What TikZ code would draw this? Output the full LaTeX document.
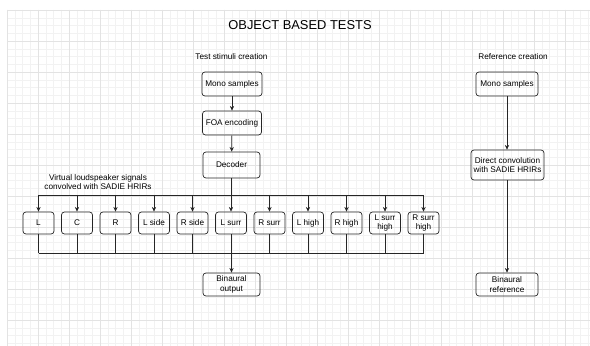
\documentclass[tikz,border=0pt]{standalone}
\usepackage{fontspec}
\setmainfont{Liberation Sans}
\usetikzlibrary{arrows.meta}

\begin{document}
\begin{tikzpicture}[x=0.03cm,y=-0.03cm,
    box/.style={draw=black!85,line width=0.6pt,rounded corners=2.5pt,align=center,
        font=\fontsize{7}{8.4}\selectfont,inner sep=1pt},
    spkbox/.style={box,minimum width=0.93cm,minimum height=0.66cm},
    wire/.style={draw=black!85,line width=0.6pt},
    arr/.style={wire,-{Stealth[length=4pt,width=3.6pt]}}]
    \useasboundingbox (0,0) rectangle (590,346);
    \fill[white] (0,0) rectangle (590,346);

    \foreach \k in {0,...,75}
        \draw[black!5,line width=0.4pt] (7+7.75*\k,10) -- (7+7.75*\k,346);
    \foreach \k in {0,...,43}
        \draw[black!5,line width=0.4pt] (7,10+7.75*\k) -- (590,10+7.75*\k);
    \foreach \k in {0,...,18}
        \draw[black!11,line width=0.4pt] (7+31*\k,10) -- (7+31*\k,346);
    \foreach \k in {0,...,10}
        \draw[black!11,line width=0.4pt] (7,10+31*\k) -- (590,10+31*\k);

    \node[font=\fontsize{11}{13}\selectfont] (Title) at (300,25) {OBJECT BASED TESTS};
    \node[font=\fontsize{7}{8.4}\selectfont] (Test) at (231.5,57) {Test stimuli creation};
    \node[font=\fontsize{7}{8.4}\selectfont] (Refc) at (513,57) {Reference creation};

    \node[box,minimum width=1.8cm,minimum height=0.72cm] (Mono1) at (232,84) {Mono samples};
    \node[box,minimum width=1.77cm,minimum height=0.72cm] (FOA) at (232,123) {FOA encoding};
    \node[box,minimum width=1.71cm,minimum height=0.78cm] (Dec) at (231.5,165) {Decoder};
    \node[box,minimum width=1.71cm,minimum height=0.69cm] (Out) at (231.5,284.5) {Binaural\\output};

    \node[box,minimum width=1.86cm,minimum height=0.72cm] (Mono2) at (507,84) {Mono samples};
    \node[box,minimum width=2.19cm,minimum height=0.9cm] (Conv) at (507.5,165) {Direct convolution\\with SADIE HRIRs};
    \node[box,minimum width=1.86cm,minimum height=0.69cm] (Ref) at (507,284.5) {Binaural\\reference};

    \node[font=\fontsize{7}{8.4}\selectfont,align=center] (Virt) at (98,182)
        {Virtual loudspeaker signals\\convolved with SADIE HRIRs};

    \foreach \i/\t in {0/L,1/C,2/R,3/L side,4/R side,5/L surr,6/R surr,7/L high,8/R high,
        9/L surr\\high,10/R surr\\high}
        \node[spkbox] (S\i) at (38.5+38.5*\i,223) {\t};

    \coordinate (BusL) at (38.5,195);
    \coordinate (BusR) at (423.5,195);
    \coordinate (SumL) at (38.5,253);
    \coordinate (SumR) at (423.5,253);

    \draw[arr] (Mono1) -- (FOA);
    \draw[arr] (FOA) -- (Dec);
    \draw[wire] (Dec.south) -- (Dec.south |- BusL);
    \draw[wire] (BusL) -- (BusR);
    \foreach \i in {0,...,10}{
        \draw[arr] (S\i |- BusL) -- (S\i.north);
        \draw[wire] (S\i.south) -- (S\i |- SumL);
    }
    \draw[wire] (SumL) -- (SumR);
    \draw[arr] (Out |- SumL) -- (Out.north);

    \draw[arr] (Mono2) -- (Mono2 |- Conv.north);
    \draw[arr] (Mono2 |- Conv.south) -- (Ref.north);
\end{tikzpicture}
\end{document}
